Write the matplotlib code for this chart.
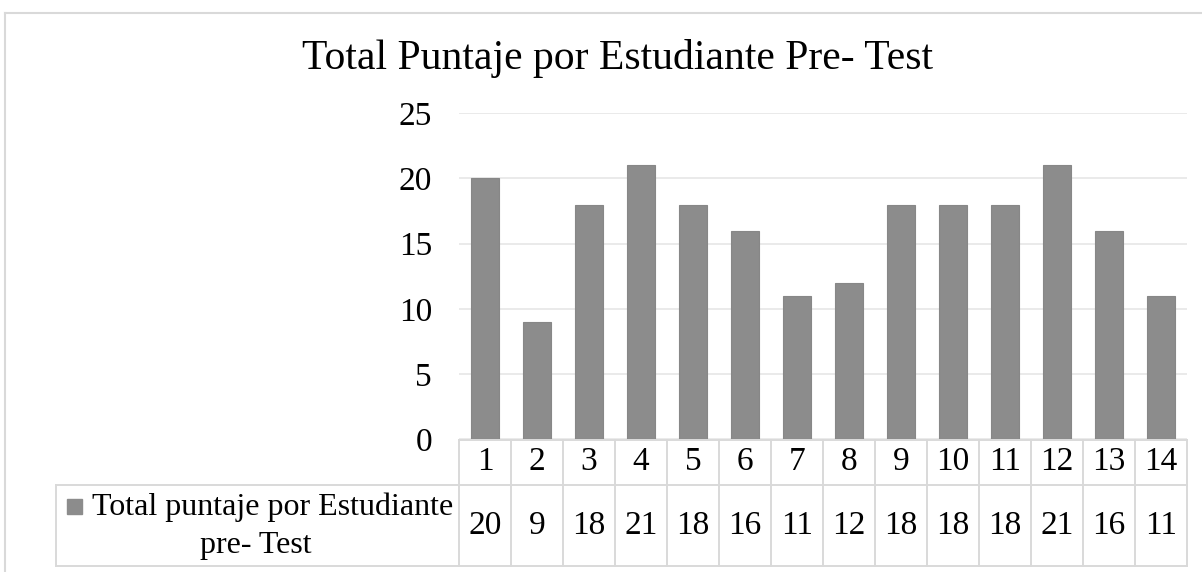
import matplotlib
matplotlib.use("Agg")
import matplotlib.pyplot as plt
from matplotlib.transforms import blended_transform_factory
from matplotlib.lines import Line2D
from matplotlib.patches import Rectangle

plt.rcParams['font.family'] = ['Liberation Serif', 'DejaVu Serif']

title = "Total Puntaje por Estudiante Pre- Test"
categories = ["1", "2", "3", "4", "5", "6", "7", "8", "9", "10", "11", "12", "13", "14"]
values = [20, 9, 18, 21, 18, 16, 11, 12, 18, 18, 18, 21, 16, 11]
series_name_line1 = "Total puntaje por Estudiante"
series_name_line2 = "pre- Test"
yticks = [0, 5, 10, 15, 20, 25]

W, H = 1202, 572
fig = plt.figure(figsize=(W / 100, H / 100), dpi=100)

def fx(px):
    return px / W

def fy(py):
    return 1 - py / H

left, right, top, bottom = 459, 1187, 113.3, 439.3
ax = fig.add_axes([fx(left), fy(bottom), fx(right) - fx(left), fy(top) - fy(bottom)])

bar_color = "#8c8c8c"
grid_color = "#e8e8e8"
line_color = "#d9d9d9"
FS = 24
FS_LEG = 23

x = list(range(len(categories)))
ax.bar(x, values, width=0.55, color=bar_color, edgecolor="#878787", linewidth=0.8, zorder=3)
ax.set_xlim(-0.5, len(categories) - 0.5)
ax.set_ylim(0, 25)
ax.set_yticks(yticks)
ax.set_yticklabels([str(v) for v in yticks], fontsize=FS)
ax.tick_params(axis='y', length=0, pad=19.5)
ax.tick_params(axis='x', length=0, labelbottom=False)
ax.yaxis.grid(True, color=grid_color, linewidth=1.3, zorder=0)
for s in ax.spines.values():
    s.set_visible(False)
ax.set_xticks([])

# Outer chart border
fig.add_artist(Line2D([fx(5), fx(5)], [fy(13), 0], color=line_color, lw=1.5))
fig.add_artist(Line2D([fx(5), 1], [fy(13), fy(13)], color=line_color, lw=1.5))

# Title
fig.text(fx(617), fy(58), title, fontsize=30, ha='center', va='center')

# Data table
tr = blended_transform_factory(ax.transData, fig.transFigure)
row_top, row_mid, row_bot = 439.8, 484.5, 566
n = len(categories)
for yy in (row_top, row_mid, row_bot):
    fig.add_artist(Line2D([-0.5, n - 0.5], [fy(yy), fy(yy)], transform=tr, color=line_color, lw=1.4, clip_on=False))
for yy in (row_mid, row_bot):
    fig.add_artist(Line2D([fx(56), fx(left)], [fy(yy), fy(yy)], color=line_color, lw=1.4))
fig.add_artist(Line2D([fx(56), fx(56)], [fy(row_mid), fy(row_bot)], color=line_color, lw=1.4))
for i in range(n + 1):
    xb = i - 0.5
    fig.add_artist(Line2D([xb, xb], [fy(row_top), fy(row_bot)], transform=tr, color=line_color, lw=1.4, clip_on=False))
for i, (c, v) in enumerate(zip(categories, values)):
    fig.text(i, fy(462), c, transform=tr, fontsize=FS, ha='center', va='center')
    fig.text(i, fy(526), str(v), transform=tr, fontsize=FS, ha='center', va='center')

# legend entry
fig.add_artist(Rectangle((fx(67), fy(514)), fx(15), fy(499) - fy(514), color=bar_color))
fig.text(fx(92), fy(507), series_name_line1, fontsize=FS_LEG, ha='left', va='center')
fig.text(fx(256), fy(545), series_name_line2, fontsize=FS_LEG, ha='center', va='center')

fig.savefig("out.png", dpi=100, facecolor="white")
